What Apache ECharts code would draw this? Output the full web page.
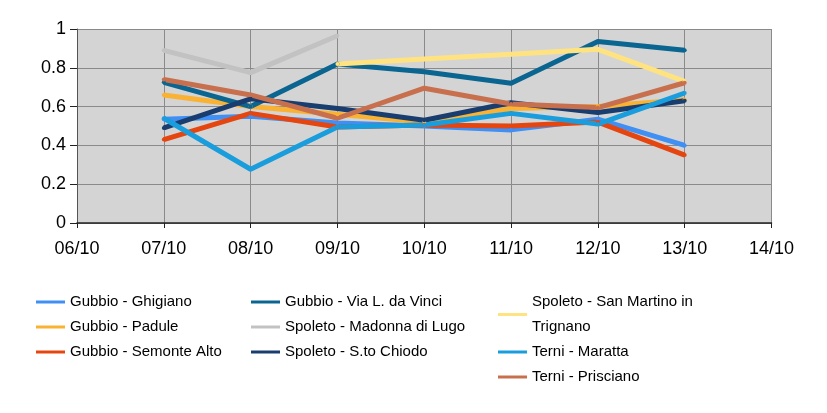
<!DOCTYPE html>
<html>
<head>
<meta charset="utf-8">
<script src="https://cdn.jsdelivr.net/npm/echarts@6/dist/echarts.min.js"></script>
<style>html,body{margin:0;padding:0;background:#fff;}#c{width:827px;height:413px;}</style>
</head>
<body>
<div id="c"></div>
<script>
const categories = ['06/10','07/10','08/10','09/10','10/10','11/10','12/10','13/10','14/10'];
const seriesNames = ['Gubbio - Ghigiano','Gubbio - Padule','Gubbio - Semonte Alto','Gubbio - Via L. da Vinci','Spoleto - Madonna di Lugo','Spoleto - S.to Chiodo','Spoleto - San Martino in Trignano','Terni - Maratta','Terni - Prisciano'];
const ghigiano   = [null, 0.535, 0.55, 0.515, 0.50, 0.48, 0.535, 0.40, null];
const padule     = [null, 0.66, 0.60, 0.56, 0.52, 0.59, 0.60, 0.635, null];
const semonte    = [null, 0.43, 0.565, 0.495, 0.505, 0.50, 0.52, 0.35, null];
const viaVinci   = [null, 0.725, 0.60, 0.82, 0.78, 0.72, 0.935, 0.89, null];
const madonna    = [null, 0.89, 0.775, 0.965, null, null, null, null, null];
const chiodo     = [null, 0.49, 0.64, 0.59, 0.53, 0.62, 0.57, 0.63, null];
const sanMartino = [null, null, null, 0.82, 0.845, 0.87, 0.895, 0.73, null];
const maratta    = [null, 0.54, 0.277, 0.495, 0.505, 0.565, 0.51, 0.67, null];
const prisciano  = [null, 0.74, 0.66, 0.54, 0.695, 0.613, 0.595, 0.723, null];
const yTicks = [0, 0.2, 0.4, 0.6, 0.8, 1];

const allData = [ghigiano, padule, semonte, viaVinci, madonna, chiodo, sanMartino, maratta, prisciano];
const colors = ['#3f8ff5','#f9b233','#e5450f','#0a6591','#c2c2c2','#193d6e','#ffe381','#1a9ddc','#c8704e'];

const font = 'Liberation Sans, Arial, sans-serif';
const chart = echarts.init(document.getElementById('c'), null, {renderer:'canvas'});

const legendBase = {
  orient: 'vertical',
  top: 289.5,
  itemWidth: 29,
  itemHeight: 3,
  itemGap: 0,
  icon: 'rect',
  textStyle: {fontFamily: font, fontSize: 15, color: '#000', lineHeight: 25, padding: [0,0,0,0]},
  formatter: function(n){ return n === 'Spoleto - San Martino in Trignano' ? 'Spoleto - San Martino in\nTrignano' : n; },
  padding: 0
};

chart.setOption({
  animation: false,
  color: colors,
  textStyle: {fontFamily: font},
  grid: {left: 77, right: 55.5, top: 29, bottom: 190, show: true, backgroundColor: '#d4d4d4', borderWidth: 0},
  legend: [
    Object.assign({}, legendBase, {left: 36, data: seriesNames.slice(0,3)}),
    Object.assign({}, legendBase, {left: 251, data: seriesNames.slice(3,6)}),
    Object.assign({}, legendBase, {left: 498, data: seriesNames.slice(6,9)})
  ],
  xAxis: {
    type: 'category',
    data: categories,
    boundaryGap: false,
    axisLine: {show: true, lineStyle: {color: '#222', width: 1.5}},
    axisTick: {show: true, length: 5, lineStyle: {color: '#222'}},
    axisLabel: {fontFamily: font, fontSize: 18, color: '#000', margin: 17, interval: 0},
    splitLine: {show: true, lineStyle: {color: '#8a8a8a', width: 1}}
  },
  yAxis: {
    type: 'value',
    min: 0, max: 1, interval: 0.2,
    axisLine: {show: true, lineStyle: {color: '#555', width: 1}},
    axisTick: {show: true, length: 7, lineStyle: {color: '#222'}},
    axisLabel: {fontFamily: font, fontSize: 18, color: '#000', margin: 11,
      formatter: function(v){ return String(Math.round(v*10)/10); }},
    splitLine: {show: true, lineStyle: {color: '#8a8a8a', width: 1}}
  },
  series: seriesNames.map(function(name, i){
    return {
      name: name,
      type: 'line',
      data: allData[i],
      symbol: 'circle',
      symbolSize: 4,
      showSymbol: true,
      connectNulls: false,
      lineStyle: {width: 5, color: colors[i]},
      itemStyle: {color: colors[i]},
      emphasis: {disabled: true}
    };
  })
});
</script>
</body>
</html>
